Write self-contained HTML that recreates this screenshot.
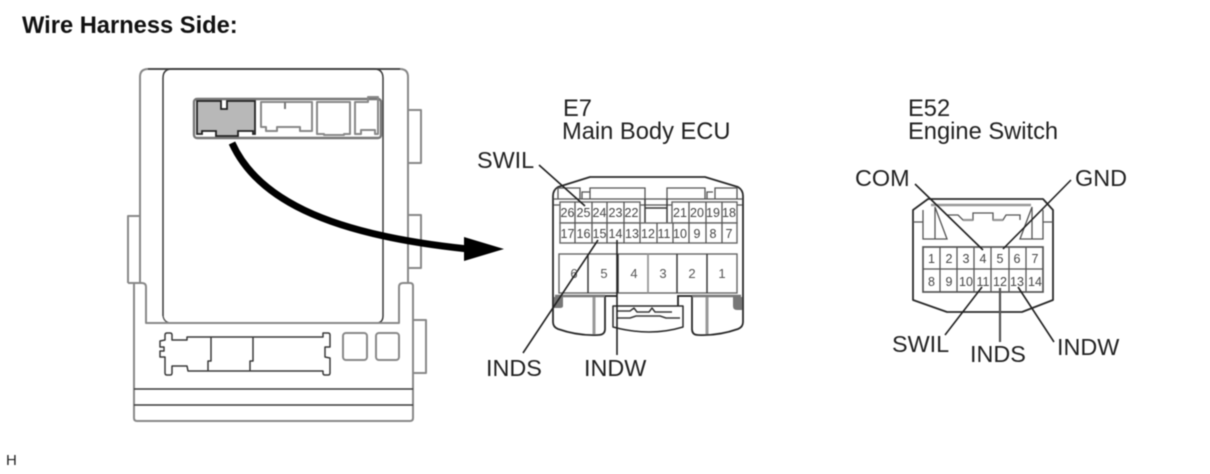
<!DOCTYPE html>
<html><head><meta charset="utf-8"><style>
html,body{margin:0;padding:0;background:#fff;width:1210px;height:474px;overflow:hidden}
svg{display:block;filter:blur(.5px)}
text{font-family:"Liberation Sans",sans-serif;fill:#222}
.d{stroke:#3a3a3a;stroke-width:1.5;fill:none;stroke-linejoin:round}
.g{stroke:#888;stroke-width:2;fill:none;stroke-linejoin:round}
.k{stroke:#222;stroke-width:1.6;fill:none}
.c{stroke:#555;stroke-width:1.3;fill:none}
.n{font-size:12.5px;text-anchor:middle;fill:#444}
.b{font-size:13px;text-anchor:middle;fill:#555}
.l{font-size:23.4px}
.h{font-size:23.7px}
</style></head><body>
<svg width="1210" height="474" viewBox="0 0 1210 474" xmlns="http://www.w3.org/2000/svg">
<text x="22" y="33" style="font-size:23.7px;font-weight:bold;fill:#111">Wire Harness Side:</text>
<text x="6" y="465" style="font-size:15px">H</text>

<!-- left body -->
<path class="g" d="M140 283V77Q140 69 148 69H400Q408 69 408 77V283"/>
<path class="d" d="M148 69H400" stroke-width="1.2"/>
<path class="d" d="M163 316V78Q163 69 172 69H374Q383 69 383 78V316Q383 323 376 323"/>
<path class="c" d="M163 316Q164 322 170 323"/>
<path class="g" d="M128 283V216H140M408 110H421V163H408M408 215H421V268H408M128 283H140"/>
<path class="g" d="M134 283V418Q134 421 137 421H410Q413 421 413 418V286Q413 283 410 283H403Q399 283 399 287V323H146V287Q146 283 142 283H134"/>
<path class="g" d="M414 320H426V373H414"/>
<path class="d" d="M134 389H413M134 405H413" stroke-width="1.6"/>

<!-- bottom slot -->
<path class="d" d="M165 340V335Q165 333 167 333H170Q172 333 172 335V340H187V337H323V333H328Q330 333 330 335V347H325V357L330 358V373Q330 375 328 375H325Q323 375 323 373V371H188L187 366H172V373Q172 375 170 375H167Q165 375 165 373V357H160V351H164V347H160V341Z"/>
<path class="d" d="M211 337V361H208V371M253 337V361H250V371"/>
<rect class="g" x="343" y="333" width="24" height="27" rx="3"/>
<rect class="g" x="376" y="333" width="23" height="27" rx="3"/>

<!-- small connector panel -->
<rect x="194" y="99" width="187" height="39" rx="3" fill="#fff" stroke="#777" stroke-width="2.4"/>
<path fill="#b8b8b8" stroke="#222" stroke-width="1.8" d="M197 101H221V109H227V101H255V134H253V131H238V136H216V131H202V134H197Z"/>
<path class="g" d="M261 102H312V131H300V127H277V131H266V127H261Z" stroke-width="1.6"/>
<path class="g" d="M317 102H350V134H344V135H324V134H317Z" stroke-width="1.6"/>
<path class="g" d="M355 102H368V97H378V134H375V130H361V134H355Z" stroke-width="1.6"/>
<path d="M285 102V109" stroke="#777" stroke-width="2"/>

<!-- arrow -->
<path d="M232 143C256 196 322 234 468 249" fill="none" stroke="#000" stroke-width="7"/>
<path d="M464 237L504 249L464 261Z" fill="#000"/>

<!-- E7 -->
<text class="h" x="563" y="116">E7</text>
<text class="h" x="562" y="139">Main Body ECU</text>
<path d="M605 296V329Q605 335 598 335Q578 336 558 329Q553 327 553 322V196Q553 190 558 187L590 177H705L738 187Q743 190 743 196V322Q743 327 738 329Q718 336 698 335Q692 335 692 329V296" fill="#fff" stroke="#2a2a2a" stroke-width="1.8" stroke-linejoin="round"/>
<path class="c" d="M554 199H742M554 205H742"/>
<path class="c" d="M558 199V188H580V199M590 199V188H645V199M667 199V188H705V199M715 199V188H737V199M582 199V192H590M707 199V192H713"/>
<path class="d" d="M645 208H667M645 199V223M667 199V223" stroke-width="1.3"/>
<g fill="#fff" stroke="#666" stroke-width="1.4">
<rect x="560" y="202" width="80" height="21"/><rect x="672" y="202" width="65" height="21"/>
<rect x="560" y="223" width="177" height="20"/><rect x="559" y="254" width="178" height="39"/>
</g>
<path class="c" d="M575 202V243M592 202V243M607 202V243M624 202V243M640 223V243M657 223V243M673 223V243M689 202V243M706 202V243M722 202V243"/>
<path class="d" d="M588 254V293M618 254V293M677 254V293M707 254V293" stroke-width="1.3"/>
<path d="M648 254V293" stroke="#999" stroke-width="1.8" fill="none"/>
<path d="M555 296H605M692 296H741" stroke="#777" stroke-width="2.4" fill="none"/>
<path d="M594 297V334M707 297V334" stroke="#999" stroke-width="3" fill="none"/>
<path d="M554 297H563V306Q563 308 560 308H554ZM742 297H733V306Q733 310 737 310H742Z" fill="#777"/>
<!-- centre clip -->
<path d="M605 296H617M678 307V296H692" stroke="#222" stroke-width="1.8" fill="none"/>
<path d="M613 306H683V327Q650 337 613 327Z" fill="#fff" stroke="#2a2a2a" stroke-width="1.5" stroke-linejoin="round"/>
<path class="d" d="M617 311H630L634 308L637 312H649L652 308L655 312H672M617 318H630L636 316H660L666 318H680" stroke-width="1.1"/>
<g>
<text class="n" x="567.5" y="217">26</text><text class="n" x="583.5" y="217">25</text><text class="n" x="599.5" y="217">24</text><text class="n" x="615.5" y="217">23</text><text class="n" x="631.5" y="217">22</text>
<text class="n" x="680" y="217">21</text><text class="n" x="697" y="217">20</text><text class="n" x="713" y="217">19</text><text class="n" x="729" y="217">18</text>
<text class="n" x="567.5" y="238">17</text><text class="n" x="583.5" y="238">16</text><text class="n" x="599.5" y="238">15</text><text class="n" x="615.5" y="238">14</text><text class="n" x="632" y="238">13</text><text class="n" x="648" y="238">12</text><text class="n" x="664" y="238">11</text><text class="n" x="680" y="238">10</text><text class="n" x="697" y="238">9</text><text class="n" x="713" y="238">8</text><text class="n" x="729" y="238">7</text>
</g>
<text class="b" x="574" y="278">6</text><text class="b" x="604" y="278">5</text><text class="b" x="634" y="278">4</text><text class="b" x="663" y="278">3</text><text class="b" x="692" y="278">2</text><text class="b" x="722" y="278">1</text>
<path class="k" d="M539 165L585 206M598 240L523 353M617 240V355"/>
<text class="l" x="477" y="168">SWIL</text>
<text class="l" x="486" y="376">INDS</text>
<text class="l" x="584" y="376">INDW</text>

<!-- E52 -->
<text class="h" x="908" y="116">E52</text>
<text class="h" x="908" y="139">Engine Switch</text>
<path d="M913 210L928 199H1043L1053 210V300L1022 312H947L913 300Z" fill="#fff" stroke="#2a2a2a" stroke-width="1.8" stroke-linejoin="round"/>
<path d="M931 205H1031" stroke="#999" stroke-width="2.4" fill="none"/>
<path class="c" d="M923 210V239H947L935 207V239M1043 210V239H1020L1032 207V239M913 222H923M1043 222H1053"/>
<path class="c" d="M947 215H958L963 220H973V213H993V220H1003L1006 215H1020V220"/>
<path d="M963 220H973M993 220H1003" stroke="#999" stroke-width="2.2" fill="none"/>
<rect x="923" y="247" width="120" height="45" fill="#fff" stroke="#555" stroke-width="1.7"/>
<path class="c" d="M923 269H1043M940 247V292M957 247V292M974 247V292M991 247V292M1009 247V292M1026 247V292"/>
<g>
<text class="n" x="931.5" y="263">1</text><text class="n" x="949" y="263">2</text><text class="n" x="966" y="263">3</text><text class="n" x="983" y="263">4</text><text class="n" x="1000" y="263">5</text><text class="n" x="1017" y="263">6</text><text class="n" x="1035" y="263">7</text>
<text class="n" x="931.5" y="286">8</text><text class="n" x="949" y="286">9</text><text class="n" x="966" y="286">10</text><text class="n" x="983" y="286">11</text><text class="n" x="1000" y="286">12</text><text class="n" x="1017" y="286">13</text><text class="n" x="1035" y="286">14</text>
</g>
<path class="k" d="M915 184L983 250M1071 180L1003 249M982 287L945 335M1018 287L1054 342"/>
<path d="M1000 288V342" stroke="#555" stroke-width="2.2" fill="none"/>
<text class="l" x="855" y="186">COM</text>
<text class="l" x="1075" y="186">GND</text>
<text class="l" x="892" y="352">SWIL</text>
<text class="l" x="970" y="362">INDS</text>
<text class="l" x="1057" y="355">INDW</text>
</svg>
</body></html>
